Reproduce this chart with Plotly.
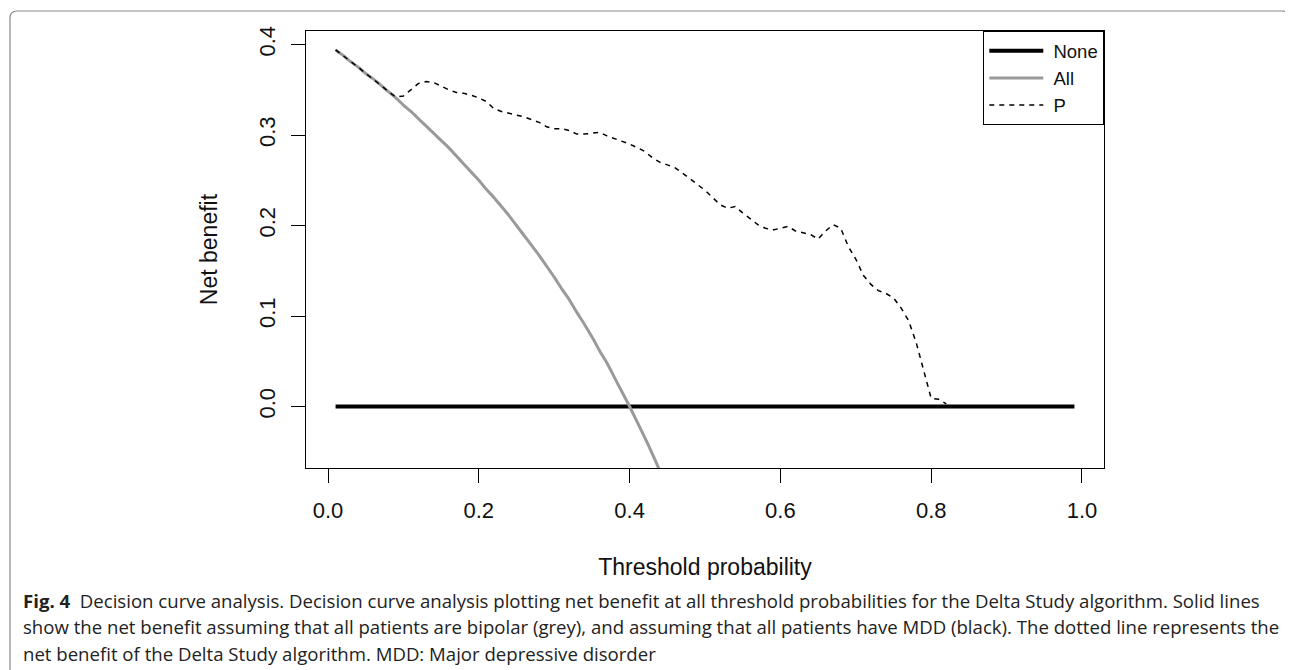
import plotly.graph_objects as go

# ---------------- data ----------------
none_x = [0.01, 0.99]
none_y = [0.0, 0.0]

all_x = [round(0.01 * i, 2) for i in range(1, 46)]
all_y = [0.394, 0.388, 0.381, 0.375, 0.368, 0.362, 0.355, 0.348, 0.341, 0.333,
         0.326, 0.318, 0.310, 0.302, 0.294, 0.286, 0.277, 0.268, 0.259, 0.250,
         0.240, 0.231, 0.221, 0.211, 0.200, 0.189, 0.178, 0.167, 0.155, 0.143,
         0.130, 0.118, 0.104, 0.091, 0.077, 0.062, 0.048, 0.032, 0.016, 0.000,
         -0.017, -0.034, -0.052, -0.071, -0.091]

p_x = [round(0.01 * i, 2) for i in range(1, 83)]
p_y = [0.394, 0.388, 0.381, 0.375, 0.368, 0.362, 0.355, 0.348, 0.342, 0.343,
       0.350, 0.357, 0.359, 0.358, 0.354, 0.350, 0.347, 0.346, 0.344, 0.341,
       0.337, 0.329, 0.326, 0.324, 0.322, 0.320, 0.317, 0.314, 0.309, 0.307,
       0.307, 0.305, 0.301, 0.301, 0.302, 0.303, 0.299, 0.296, 0.293, 0.290,
       0.286, 0.282, 0.275, 0.270, 0.267, 0.264, 0.258, 0.252, 0.245, 0.239,
       0.231, 0.223, 0.219, 0.221, 0.214, 0.207, 0.201, 0.197, 0.195, 0.197,
       0.199, 0.194, 0.192, 0.190, 0.185, 0.194, 0.201, 0.197, 0.177, 0.163,
       0.145, 0.135, 0.128, 0.125, 0.120, 0.109, 0.095, 0.071, 0.040, 0.009,
       0.008, 0.003]

series_names = ["None", "All", "P"]

x_ticks = [0.0, 0.2, 0.4, 0.6, 0.8, 1.0]
x_ticklabels = ["0.0", "0.2", "0.4", "0.6", "0.8", "1.0"]
y_ticks = [0.0, 0.1, 0.2, 0.3, 0.4]
y_ticklabels = ["0.0", "0.1", "0.2", "0.3", "0.4"]

caption_lines = [
    "<b>Fig.\u00a04</b>\u00a0\u00a0Decision curve analysis. Decision curve analysis plotting net benefit at all threshold probabilities for the Delta Study algorithm. Solid lines",
    "show the net benefit assuming that all patients are bipolar (grey), and assuming that all patients have MDD (black). The dotted line represents the",
    "net benefit of the Delta Study algorithm. MDD: Major depressive disorder",
]

# ---------------- layout geometry ----------------
OFF = 8                      # page body margin of the browser
W, H = 1293 - OFF, 670 - OFF
# plot area in screen pixels: left 306, right 1104, top 31, bottom 468
ML = 306 - OFF
MT = 31 - OFF
MR = W - (1104 - OFF)
MB = H - (468 - OFF)
PW = W - ML - MR
PH = H - MT - MB


def X(px):   # screen px -> paper x
    return (px - OFF - ML) / PW


def Y(py):   # screen px -> paper y
    return (H - MB - (py - OFF)) / PH


AX_FONT = "Liberation Sans, Arial, sans-serif"

fig = go.Figure()
fig.add_trace(go.Scatter(x=none_x, y=none_y, mode="lines", name="\u00a0" + series_names[0],
                         line=dict(color="black", width=4)))
fig.add_trace(go.Scatter(x=all_x, y=all_y, mode="lines", name="\u00a0" + series_names[1],
                         line=dict(color="#9a9a9a", width=3, shape="spline", smoothing=0.6)))
fig.add_trace(go.Scatter(x=p_x, y=p_y, mode="lines", name="\u00a0" + series_names[2],
                         line=dict(color="black", width=1.5, dash="5px,5px")))

axis_common = dict(
    showline=True, mirror=True, linecolor="black", linewidth=1.3,
    ticks="outside", ticklen=14, tickwidth=1.3, tickcolor="black",
    showgrid=False, zeroline=False,
    tickfont=dict(family=AX_FONT, size=22, color="#111"),
)

fig.update_xaxes(range=[-0.0292, 1.0292], tickvals=x_ticks, ticktext=x_ticklabels,
                 ticklabelstandoff=8,
                 title=dict(text="Threshold probability", standoff=37,
                            font=dict(family=AX_FONT, size=23, color="#111")),
                 **axis_common)
fig.update_yaxes(range=[-0.0679, 0.4149], tickvals=y_ticks, ticktext=y_ticklabels,
                 tickangle=-90, ticklabelstandoff=7,
                 title=dict(text="Net benefit", standoff=30,
                            font=dict(family=AX_FONT, size=23, color="#111")),
                 **axis_common)

# caption
cap_y = [600, 626.7, 653.3]
annotations = []
for line, cy in zip(caption_lines, cap_y):
    annotations.append(dict(
        text=line, xref="paper", yref="paper",
        x=X(21), y=Y(cy), xanchor="left", yanchor="middle",
        showarrow=False, align="left",
        font=dict(family="Open Sans, Noto Sans, sans-serif", size=18.6, color="#222"),
    ))

# card frame with rounded top corners
x0, x1, yt, yb, r = 10, 1289, 11, 720, 7
path = (f"M {X(x0)} {Y(yb)} L {X(x0)} {Y(yt + r)} Q {X(x0)} {Y(yt)} {X(x0 + r)} {Y(yt)} "
        f"L {X(x1 - r)} {Y(yt)} Q {X(x1)} {Y(yt)} {X(x1)} {Y(yt + r)} L {X(x1)} {Y(yb)}")
shapes = [dict(type="path", xref="paper", yref="paper", path=path,
               line=dict(color="#8a8a8a", width=1.2), layer="below")]

fig.update_layout(
    width=W, height=H,
    margin=dict(l=ML, r=MR, t=MT, b=MB, autoexpand=False),
    paper_bgcolor="white", plot_bgcolor="white",
    showlegend=True,
    legend=dict(x=1, y=1, xanchor="right", yanchor="top",
                bordercolor="black", borderwidth=1.3, bgcolor="white",
                font=dict(family=AX_FONT, size=18.5, color="#111"),
                tracegroupgap=0, itemwidth=54),
    annotations=annotations,
    shapes=shapes,
)

fig.write_html("out.html")
